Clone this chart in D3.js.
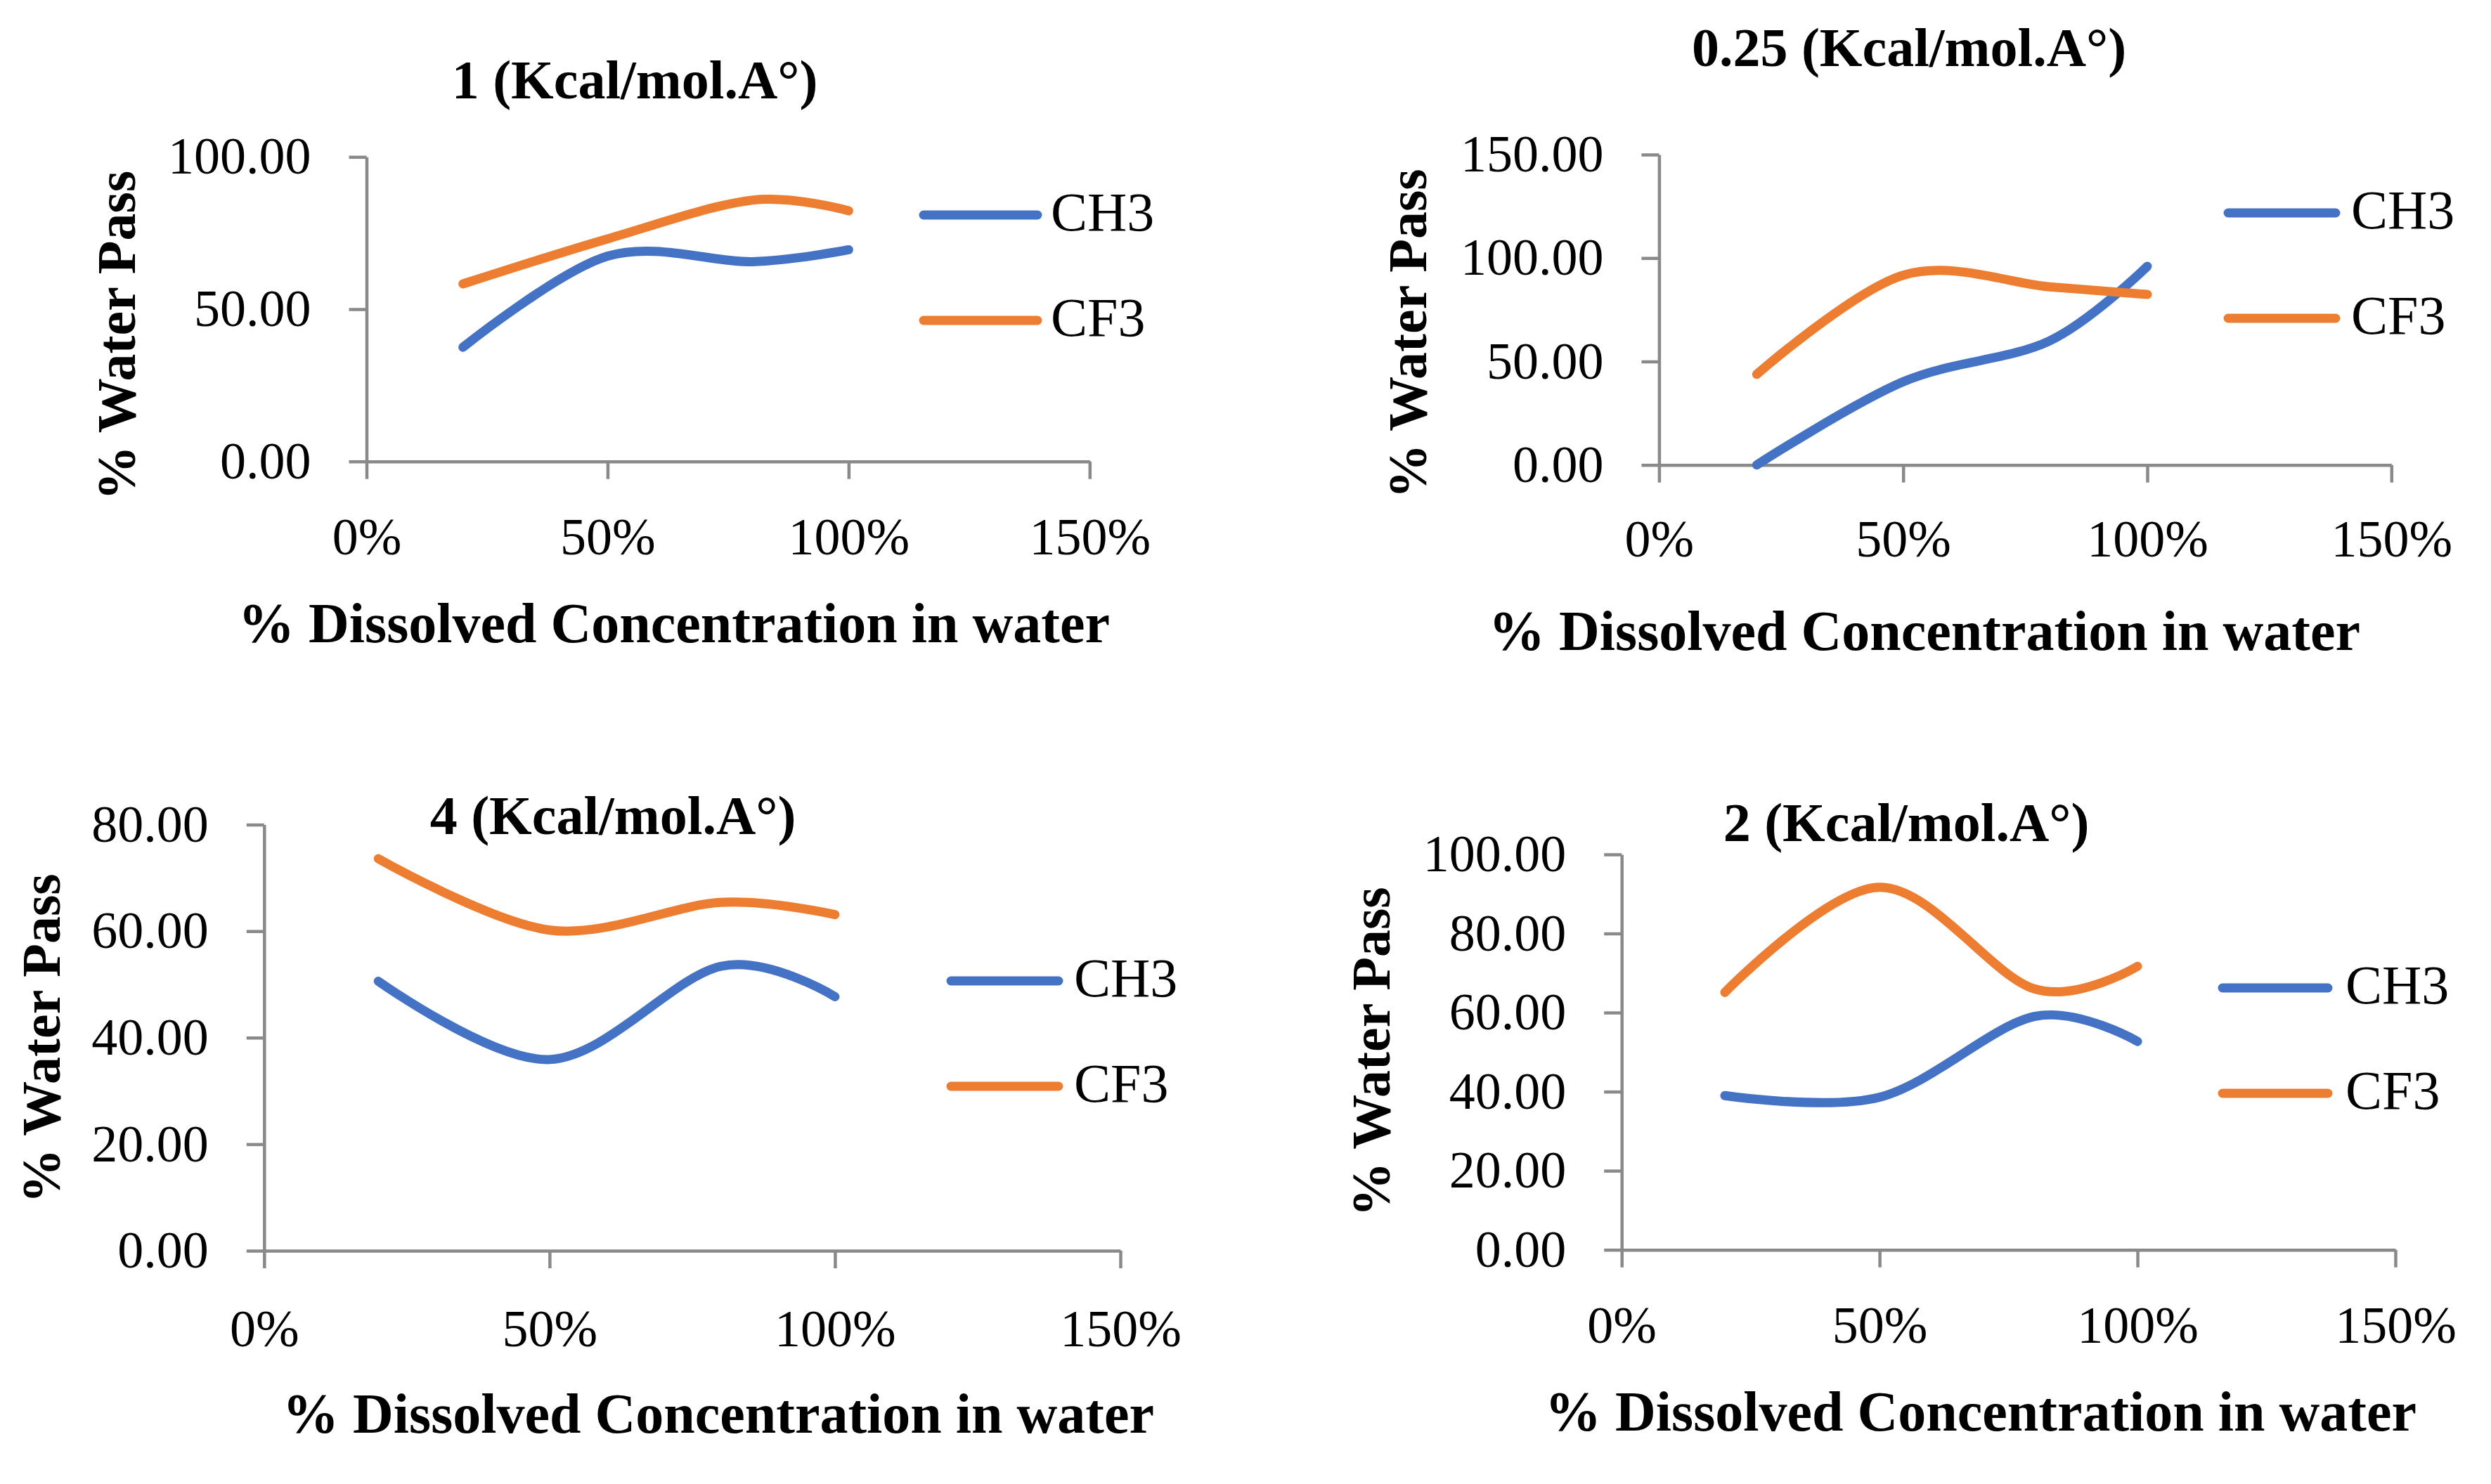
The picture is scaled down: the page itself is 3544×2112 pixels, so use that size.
<!DOCTYPE html>
<html>
<head>
<meta charset="utf-8">
<script src="https://cdn.jsdelivr.net/npm/d3@7"></script>
<style>
  html, body { margin: 0; padding: 0; background: #ffffff; }
  svg { display: block; }
</style>
</head>
<body>
<svg id="chart" width="3544" height="2112"></svg>
<script>
// ---------------- DATA ----------------
const concentration = [0.2, 0.5, 0.8, 1.0];          // % dissolved concentration in water
const seriesNames = ["CH3", "CF3"];
const xTickValues = [0, 0.5, 1.0, 1.5];

const title_k1 = "1 (Kcal/mol.A°)";
const title_k025 = "0.25 (Kcal/mol.A°)";
const title_k4 = "4 (Kcal/mol.A°)";
const title_k2 = "2 (Kcal/mol.A°)";

const ch3_k1 = [37.5, 67.4, 65.6, 69.5];
const cf3_k1 = [58.3, 73.1, 85.8, 82.3];
const yTicks_k1 = [0, 50, 100];

const ch3_k025 = [0.0, 40.2, 60.0, 96.0];
const cf3_k025 = [43.8, 91.7, 86.1, 82.4];
const yTicks_k025 = [0, 50, 100, 150];

const ch3_k4 = [50.6, 35.9, 53.4, 47.7];
const cf3_k4 = [73.6, 60.2, 65.4, 63.1];
const yTicks_k4 = [0, 20, 40, 60, 80];

const ch3_k2 = [39.0, 38.6, 59.0, 52.7];
const cf3_k2 = [65.1, 91.7, 66.0, 71.7];
const yTicks_k2 = [0, 20, 40, 60, 80, 100];

const xAxisTitle = "% Dissolved Concentration in water";
const yAxisTitle = "% Water Pass";

// ---------------- LAYOUT / STYLE ----------------
const COLORS = ["#4472C4", "#ED7D31"];
const AXIS_COLOR = "#898989";
const FONT = "'Liberation Serif', 'Times New Roman', Times, serif";

const panels = [
  { title: title_k1, ch3: ch3_k1, cf3: cf3_k1, yTicks: yTicks_k1,
    left: 521.5, right: 1550.3, bottom: 656.7, top: 223.3,
    titleX: 903, titleY: 140, xTickPad: 55, xTitleX: 959, xTitleY: 914,
    yTitleX: 192, yTitleY: 477.5,
    legX1: 1314, legX2: 1476, legY: [306, 456], legTextX: 1495 },
  { title: title_k025, ch3: ch3_k025, cf3: cf3_k025, yTicks: yTicks_k025,
    left: 2360.4, right: 3402.3, bottom: 661.7, top: 220,
    titleX: 2716, titleY: 94, xTickPad: 53, xTitleX: 2738, xTitleY: 925,
    yTitleX: 2029, yTitleY: 475,
    legX1: 3170, legX2: 3323, legY: [303, 453], legTextX: 3345 },
  { title: title_k4, ch3: ch3_k4, cf3: cf3_k4, yTicks: yTicks_k4,
    left: 375.8, right: 1594, bottom: 1780, top: 1173.6,
    titleX: 872, titleY: 1187, xTickPad: 58.5, xTitleX: 1022, xTitleY: 2039,
    yTitleX: 85, yTitleY: 1478,
    legX1: 1353, legX2: 1506, legY: [1396, 1546], legTextX: 1528 },
  { title: title_k2, ch3: ch3_k2, cf3: cf3_k2, yTicks: yTicks_k2,
    left: 2307.2, right: 3408, bottom: 1778.7, top: 1216,
    titleX: 2712, titleY: 1197, xTickPad: 55, xTitleX: 2818, xTitleY: 2036,
    yTitleX: 1977, yTitleY: 1497,
    legX1: 3162, legX2: 3312, legY: [1406, 1556], legTextX: 3337 }
];

const svg = d3.select("#chart");
svg.append("rect").attr("width", 3544).attr("height", 2112).attr("fill", "#ffffff");

panels.forEach(p => {
  const g = svg.append("g");
  const yMax = d3.max(p.yTicks);
  const x = d3.scaleLinear().domain([0, 1.5]).range([p.left, p.right]);
  const y = d3.scaleLinear().domain([0, yMax]).range([p.bottom, p.top]);

  // Y axis
  const yAxis = g.append("g")
    .attr("transform", `translate(${p.left},0)`)
    .call(d3.axisLeft(y).tickValues(p.yTicks).tickFormat(d3.format(".2f"))
      .tickSize(25).tickSizeOuter(0).tickPadding(54));
  // X axis
  const xAxis = g.append("g")
    .attr("transform", `translate(0,${p.bottom})`)
    .call(d3.axisBottom(x).tickValues(xTickValues).tickFormat(d3.format(".0%"))
      .tickSize(25).tickSizeOuter(0).tickPadding(p.xTickPad));

  [yAxis, xAxis].forEach(a => {
    a.attr("font-family", FONT).attr("font-size", 74);
    a.select(".domain").attr("stroke", AXIS_COLOR).attr("stroke-width", 4.5);
    a.selectAll(".tick line").attr("stroke", AXIS_COLOR).attr("stroke-width", 4.5);
    a.selectAll(".tick text").attr("fill", "#000000");
  });

  // Series lines
  const line = d3.line()
    .x((d, i) => x(concentration[i]))
    .y(d => y(d))
    .curve(d3.curveCardinal.tension(0));
  [p.ch3, p.cf3].forEach((vals, si) => {
    g.append("path")
      .datum(vals)
      .attr("d", line)
      .attr("fill", "none")
      .attr("stroke", COLORS[si])
      .attr("stroke-width", 13)
      .attr("stroke-linecap", "round")
      .attr("stroke-linejoin", "round");
  });

  // Title
  g.append("text")
    .attr("x", p.titleX).attr("y", p.titleY)
    .attr("text-anchor", "middle")
    .attr("font-family", FONT).attr("font-weight", "bold").attr("font-size", 78)
    .text(p.title);

  // X axis title
  g.append("text")
    .attr("x", p.xTitleX).attr("y", p.xTitleY)
    .attr("text-anchor", "middle")
    .attr("font-family", FONT).attr("font-weight", "bold").attr("font-size", 80)
    .text(xAxisTitle);

  // Y axis title
  g.append("text")
    .attr("transform", `translate(${p.yTitleX},${p.yTitleY}) rotate(-90)`)
    .attr("text-anchor", "middle")
    .attr("font-family", FONT).attr("font-weight", "bold").attr("font-size", 78)
    .text(yAxisTitle);

  // Legend
  seriesNames.forEach((name, si) => {
    g.append("line")
      .attr("x1", p.legX1).attr("x2", p.legX2)
      .attr("y1", p.legY[si]).attr("y2", p.legY[si])
      .attr("stroke", COLORS[si]).attr("stroke-width", 13)
      .attr("stroke-linecap", "round");
    g.append("text")
      .attr("x", p.legTextX).attr("y", p.legY[si] + 22)
      .attr("font-family", FONT).attr("font-size", 78)
      .attr("fill", "#000000")
      .text(name);
  });
});
</script>
</body>
</html>
